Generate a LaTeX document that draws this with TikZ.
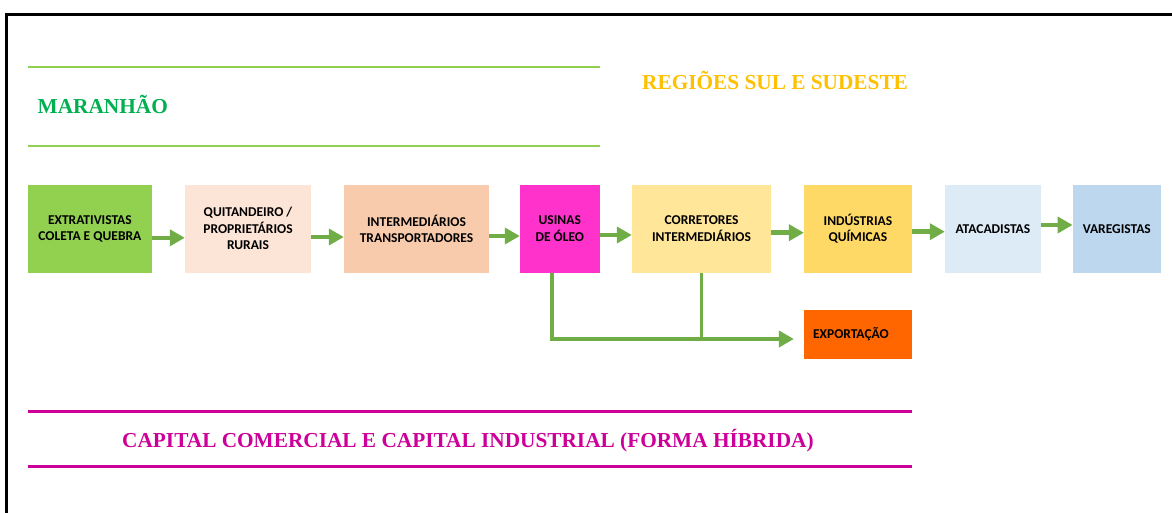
\documentclass[tikz,border=0pt]{standalone}
\usepackage{fontspec}
\setmainfont{Liberation Serif}
\newfontfamily\boxfont{Carlito}
\usetikzlibrary{arrows.meta}
\definecolor{linegreen}{HTML}{92D050}
\definecolor{titlegreen}{HTML}{00B050}
\definecolor{titlegold}{HTML}{FFC000}
\definecolor{titlemag}{HTML}{CC0099}
\definecolor{arrowgreen}{HTML}{70AD47}
\definecolor{cA}{HTML}{92D050}
\definecolor{cB}{HTML}{FCE4D6}
\definecolor{cC}{HTML}{F8CBAD}
\definecolor{cD}{HTML}{FF33CC}
\definecolor{cE}{HTML}{FFE699}
\definecolor{cF}{HTML}{FFD966}
\definecolor{cG}{HTML}{DDEBF7}
\definecolor{cH}{HTML}{BDD7EE}
\definecolor{cX}{HTML}{FF6600}
\begin{document}
\begin{tikzpicture}[x=1pt,y=-1pt,
  stagebox/.style={minimum height=87.7pt, inner sep=0pt, align=center,
    font=\boxfont\bfseries\fontsize{13.5}{16.5}\selectfont, text=black},
  flow/.style={draw=arrowgreen, line width=4.5pt, -{Triangle[length=15pt,width=16pt]}},
  branch/.style={draw=arrowgreen, line width=3.5pt},
  titletext/.style={anchor=base west, inner sep=0pt, font=\bfseries\fontsize{21.3}{25}\selectfont}
]
\clip (0,0) rectangle (1172,513);
% frame
\draw[line width=2.5pt] (6.7,600) -- (6.7,14.3) -- (1200,14.3);
% separators
\draw[linegreen, line width=2pt] (28,67) -- (599.6,67);
\draw[linegreen, line width=2pt] (28,146) -- (599.6,146);
\draw[titlemag, line width=3pt] (28,411) -- (911.7,411);
\draw[titlemag, line width=3pt] (28,466) -- (911.7,466);
% titles
\node[titletext, text=titlegreen] (tmar) at (37.5,114) {MARANHÃO};
\node[titletext, text=titlegold] (treg) at (642,90) {REGIÕES SUL E SUDESTE};
\node[titletext, text=titlemag] (tcap) at (122,447.7) {CAPITAL COMERCIAL E CAPITAL INDUSTRIAL (FORMA HÍBRIDA)};
% boxes
\node[stagebox, fill=cA, minimum width=123.8pt] (ext) at (89.9,228.8) {EXTRATIVISTAS\\COLETA E QUEBRA};
\node[stagebox, fill=cB, minimum width=126pt] (qui) at (248,228.8) {QUITANDEIRO /\\PROPRIETÁRIOS\\RURAIS};
\node[stagebox, fill=cC, minimum width=145pt] (int) at (416.5,228.8) {INTERMEDIÁRIOS\\TRANSPORTADORES};
\node[stagebox, fill=cD, minimum width=79.6pt] (usi) at (559.8,228.8) {USINAS\\DE ÓLEO};
\node[stagebox, fill=cE, minimum width=139pt] (cor) at (701.5,228.8) {CORRETORES\\INTERMEDIÁRIOS};
\node[stagebox, fill=cF, minimum width=107.7pt] (ind) at (857.9,228.8) {INDÚSTRIAS\\QUÍMICAS};
\node[stagebox, fill=cG, minimum width=95.8pt] (ata) at (992.9,228.8) {ATACADISTAS};
\node[stagebox, fill=cH, minimum width=88pt] (var) at (1116.8,228.8) {VAREGISTAS};
\node[stagebox, fill=cX, minimum width=107.7pt, minimum height=49pt, text width=89.7pt, inner xsep=9pt, align=left] (exp) at (857.9,334.5) {EXPORTAÇÃO};
% arrows
\draw[flow] ([yshift=-9pt]ext.east) -- ([yshift=-9pt]qui.west);
\draw[flow] ([yshift=-8.2pt]qui.east) -- ([yshift=-8.2pt]int.west);
\draw[flow] ([yshift=-7.2pt]int.east) -- ([yshift=-7.2pt]usi.west);
\draw[flow] ([yshift=-6.2pt]usi.east) -- ([yshift=-6.2pt]cor.west);
\draw[flow] ([yshift=-3.9pt]cor.east) -- ([yshift=-3.9pt]ind.west);
\draw[flow] ([yshift=-2.9pt]ind.east) -- ([yshift=-2.9pt]ata.west);
\draw[flow] ([yshift=3.8pt]ata.east) -- ([yshift=3.8pt]var.west);
% branch to export
\coordinate (jt) at ([xshift=-10pt,yshift=-4.5pt]exp.west);
\draw[flow, line width=4pt] ([xshift=-7.5pt]usi.south) |- (jt);
\draw[branch] (cor.south) -- (cor.south |- jt);
\end{tikzpicture}
\end{document}
